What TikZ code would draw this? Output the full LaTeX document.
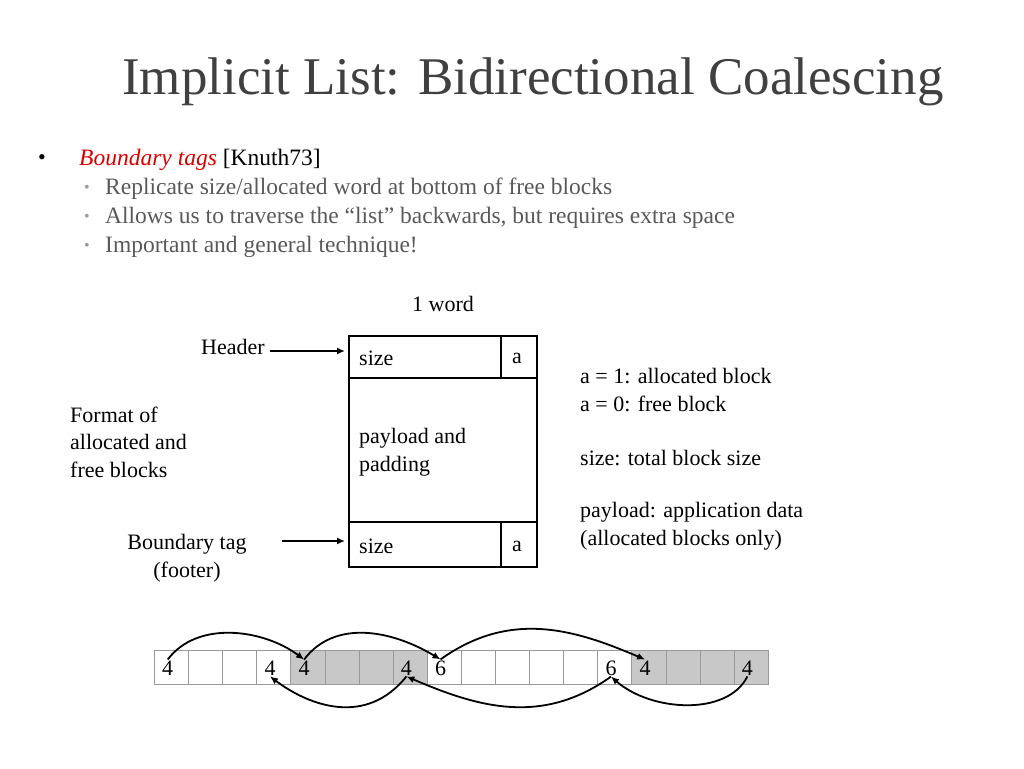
\documentclass[tikz,border=0pt]{standalone}
\usepackage{fontspec}
\setmainfont{Liberation Serif}
\usetikzlibrary{arrows.meta}
\definecolor{ttl}{HTML}{404040}
\definecolor{sub}{HTML}{595959}
\definecolor{gcell}{HTML}{C8C8C8}
\tikzset{
 txt/.style={anchor=west,inner sep=0pt,font=\fontsize{22}{27.5}\selectfont},
 lbl/.style={inner sep=0pt,font=\fontsize{22}{27.5}\selectfont},
 ptr/.style={-{Latex[length=8pt,width=7pt]},line width=1.8pt},
 cell/.style={draw=gray!80,minimum width=34.1pt,minimum height=34pt,inner sep=0pt,anchor=north west},
 sbul/.style={anchor=west,inner sep=0pt,text=sub!60,font=\fontsize{16}{16}\selectfont},
 stxt/.style={anchor=west,inner sep=0pt,text=sub,font=\fontsize{23.5}{26}\selectfont},
}
\begin{document}
\begin{tikzpicture}[x=1pt,y=-1pt]
\useasboundingbox (0,0) rectangle (1024,768);
\node[anchor=west,inner sep=0pt,text=ttl,font=\fontsize{53}{58}\selectfont] (title) at (122,82) {Implicit List: Bidirectional Coalescing};
\node[anchor=west,inner sep=0pt,font=\fontsize{22}{26}\selectfont] (b1) at (38,160) {•};
\node[anchor=west,inner sep=0pt,font=\fontsize{23.5}{26}\selectfont] (b1t) at (79,160) {\textcolor{red!85!black}{\textit{Boundary tags}} [Knuth73]};
\node[sbul] (sb1) at (84,189) {•};
\node[stxt] (st1) at (105,189) {Replicate size/allocated word at bottom of free blocks};
\node[sbul] (sb2) at (84,218) {•};
\node[stxt] (st2) at (105,218) {Allows us to traverse the “list” backwards, but requires extra space};
\node[sbul] (sb3) at (84,247) {•};
\node[stxt] (st3) at (105,247) {Important and general technique!};
% block
\node[draw,line width=1.5pt,minimum width=188pt,minimum height=231pt,inner sep=0pt,anchor=north west] (blk) at (348,335) {};
\draw[line width=1.5pt] (348,378) -- (536,378) (348,522) -- (536,522) (501,335) -- (501,378) (501,522) -- (501,566);
\node[lbl] (w) at (443,304) {1 word};
\node[txt] (s1) at (359,358) {size};
\node[lbl] (a1) at (517,358) {a};
\node[txt,align=left] (pl) at (359,452) {payload and\\padding};
\node[txt] (s2) at (359,546) {size};
\node[lbl] (a2) at (517,546) {a};
\node[lbl] (hd) at (233,347) {Header};
\coordinate (hdend) at (345,351);
\draw[ptr] (270,351) -- (hdend);
\node[lbl,align=center] (bt) at (187,558) {Boundary tag\\(footer)};
\coordinate (btend) at (345,541);
\draw[ptr] (282,541) -- (btend);
\node[txt,align=left] (fmt) at (70,442) {Format of\\allocated and\\free blocks};
\node[txt,align=left] (leg) at (580,390) {a = 1: allocated block\\a = 0: free block};
\node[txt] (leg2) at (580,458) {size: total block size};
\node[txt,align=left] (leg3) at (580,526) {payload: application data\\(allocated blocks only)};
% strip
\foreach \i/\v in {0/4,1/,2/,3/4,4/4,5/,6/,7/4,8/6,9/,10/,11/,12/,13/6,14/4,15/,16/,17/4}{
 \pgfmathsetmacro\xx{154+34.1*\i}
 \def\cf{white}
 \ifnum\i>3 \ifnum\i<8 \def\cf{gcell}\fi\fi
 \ifnum\i>13 \def\cf{gcell}\fi
 \node[cell,fill=\cf] (c\i) at (\xx,650) {};
 \node[inner sep=1pt,font=\fontsize{22}{24}\selectfont,anchor=west] (n\i) at (\xx+7,668) {\v};
}
\draw[ptr] (n0.north) .. controls +(30,-40) and +(-40,-30) .. (n4.north);
\draw[ptr] (n4.north) .. controls +(30,-40) and +(-50,-30) .. (n8.north);
\draw[ptr] (n8.north) .. controls +(70,-50) and +(-70,-30) .. (n14.north);
\draw[ptr] (n17.south) .. controls +(-20,40) and +(40,35) .. (n13.south);
\draw[ptr] (n13.south) .. controls +(-70,50) and +(70,30) .. (n7.south);
\draw[ptr] (n7.south) .. controls +(-40,50) and +(40,30) .. (n3.south);
\end{tikzpicture}
\end{document}
